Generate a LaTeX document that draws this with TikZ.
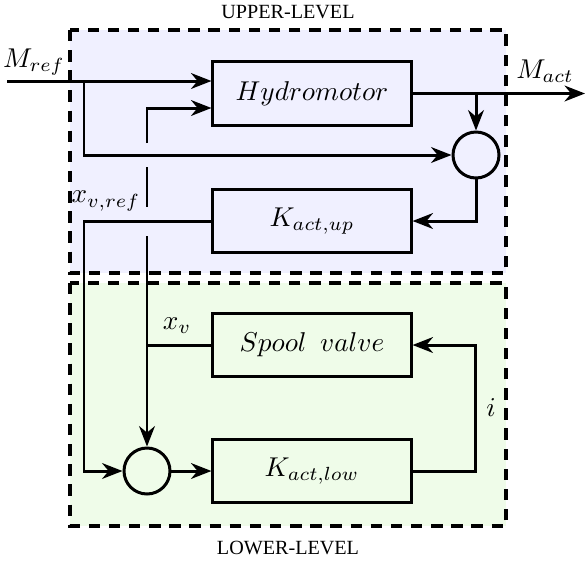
\documentclass[tikz,border=0pt]{standalone}
\usepackage{fontspec}
\newfontfamily\lblfont{Liberation Serif}
\usetikzlibrary{arrows.meta}
\definecolor{upfill}{RGB}{240,240,255}
\definecolor{lowfill}{RGB}{239,252,233}
\begin{document}
\begin{tikzpicture}[x=0.3675pt,y=-0.3675pt,
  blk/.style={draw, line width=1.1pt, minimum width=72.8pt, minimum height=23.2pt, inner sep=0pt},
  sumc/.style={draw, circle, line width=1.1pt, minimum size=16.9pt, inner sep=0pt},
  sig/.style={line width=1.1pt},
  arr/.style={sig, -{Stealth[length=7.5pt,width=5.8pt,inset=2.4pt]}},
  level/.style={draw, line width=1.15pt, dash pattern=on 4.2pt off 3.2pt},
  lvltxt/.style={font=\lblfont\fontsize{7.4}{9}\selectfont}]
\useasboundingbox (0,0) rectangle (585,565);

% the two control levels
\draw[level, fill=upfill] (70,30) rectangle (506,273);
\draw[level, fill=lowfill] (70,283) rectangle (506,526);
\node[lvltxt] (uplbl) at (288,12) {UPPER-LEVEL};
\node[lvltxt] (lowlbl) at (288,548) {LOWER-LEVEL};

% blocks
\node[blk] (hm) at (312,93.5) {$Hydromotor$};
\node[blk] (ku) at (312,221) {$K_{act,up}$};
\node[blk] (sv) at (312,345) {$Spool\ \,valve$};
\node[blk] (kl) at (312,471) {$K_{act,low}$};
\node[sumc] (su) at (476,155) {};
\node[sumc] (sl) at (147,471) {};

% helper points
\coordinate (in) at (7,81);
\coordinate (out) at (585,93.5);
\coordinate (b1) at (84,81);
\coordinate (g0) at (147,108);
\coordinate (g1) at (147,143);
\coordinate (g2) at (147,167);
\coordinate (g3) at (147,207);
\coordinate (g4) at (147,236);
\coordinate (xv) at (147,345);
\coordinate (c1) at (84,221);
\coordinate (c2) at (475,471);

% upper loop
\draw[arr] (in) -- (in -| hm.west);
\draw[arr] (b1) |- (su.west);
\draw[arr] (g1) |- (hm.west |- g0);
\draw[sig] (g2) -- (g3);
\draw[arr] (hm.east) -- (out);
\draw[arr] (hm.east -| su.north) -- (su.north);
\draw[arr] (su.south) |- (ku.east);
\draw[arr] (ku.west) -- (c1) |- (sl.west);

% lower loop
\draw[arr] (g4) -- (sl.north);
\draw[sig] (sv.west) -- (xv);
\draw[arr] (sl.east) -- (kl.west);
\draw[arr] (kl.east) -- (c2) |- (sv.east);

% signal labels
\node (mref) at (34,62) {$M_{ref}$};
\node (mact) at (545,71) {$M_{act}$};
\node (xvref) at (106,201) {$x_{v,ref}$};
\node (xvl) at (177,326) {$x_v$};
\node (il) at (491,408) {$i$};
\end{tikzpicture}
\end{document}
